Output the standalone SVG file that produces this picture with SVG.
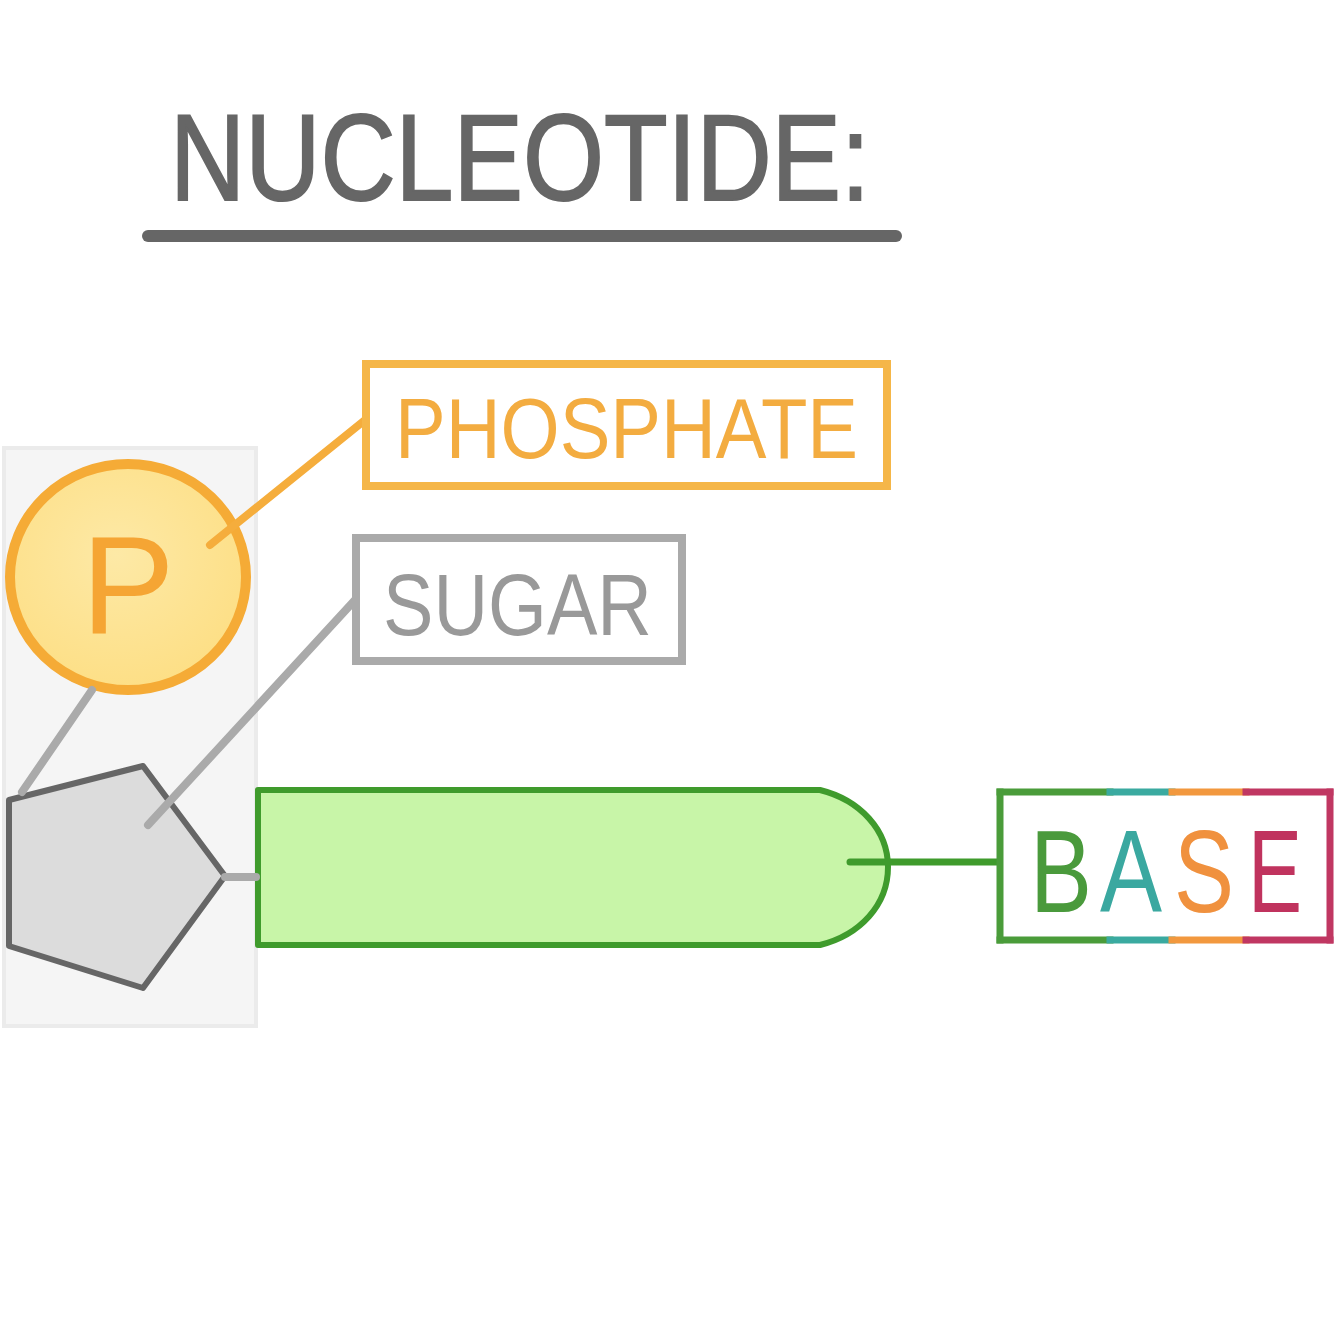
<svg xmlns="http://www.w3.org/2000/svg" width="1334" height="1334" viewBox="0 0 1334 1334">
<defs>
<radialGradient id="pg" cx="0.45" cy="0.4" r="0.6">
<stop offset="0" stop-color="#fde9a6"/>
<stop offset="1" stop-color="#fddf86"/>
</radialGradient>
<style>
.t{font-family:"Liberation Sans","DejaVu Sans",sans-serif;font-weight:normal}
.conn line{stroke-linecap:round;fill:none}
</style>
</defs>
<rect width="1334" height="1334" fill="#ffffff"/>
<g id="title">
<text class="t" x="170" y="200" font-size="122" fill="#666666" stroke="#666666" stroke-width="2" textLength="700" lengthAdjust="spacingAndGlyphs">NUCLEOTIDE:</text>
<line x1="148" y1="236" x2="896" y2="236" stroke="#666666" stroke-width="12" stroke-linecap="round"/>
</g>
<g id="backbone">
<rect x="4" y="448" width="252" height="578" fill="#f5f5f5" stroke="#ebebeb" stroke-width="4"/>
</g>
<g id="phosphate">
<ellipse cx="128" cy="577" rx="118" ry="113" fill="url(#pg)" stroke="#f5ab36" stroke-width="10"/>
<text class="t" x="128" y="633" font-size="140" fill="#f5a534" text-anchor="middle">P</text>
</g>
<g id="sugar">
<polygon points="143,766 225,876 143,988 9,946 9,800" fill="#dcdcdc" stroke="#666666" stroke-width="6" stroke-linejoin="round"/>
</g>
<g id="base-shape">
<path d="M258,790 L820,790 C860,800 888,830 888,867 C888,905 860,935 820,945 L258,945 Z" fill="#c8f5a8" stroke="#3f9b2c" stroke-width="6" stroke-linejoin="round"/>
</g>
<g id="connectors" class="conn">
<line x1="92" y1="690" x2="22" y2="792" stroke="#aaaaaa" stroke-width="8"/>
<line x1="355" y1="600" x2="148" y2="825" stroke="#aaaaaa" stroke-width="8"/>
<line x1="225" y1="877" x2="256" y2="877" stroke="#aaaaaa" stroke-width="8"/>
<line x1="210" y1="545" x2="365" y2="420" stroke="#f5ad3c" stroke-width="8"/>
<line x1="850" y1="862" x2="1000" y2="862" stroke="#3f9b2c" stroke-width="7"/>
</g>
<g id="label-phosphate">
<rect x="366" y="364" width="521" height="122" fill="#ffffff" stroke="#f5b648" stroke-width="8"/>
<text class="t" x="395" y="458" font-size="86" fill="#f3ac40" textLength="463" lengthAdjust="spacingAndGlyphs">PHOSPHATE</text>
</g>
<g id="label-sugar">
<rect x="356" y="538" width="326" height="123" fill="#ffffff" stroke="#aaaaaa" stroke-width="8"/>
<text class="t" x="383" y="635" font-size="88" fill="#999999" textLength="269" lengthAdjust="spacingAndGlyphs">SUGAR</text>
</g>
<g id="label-base">
<rect x="1000" y="792" width="330" height="148" fill="#ffffff"/>
<g stroke-width="7" stroke-linecap="square">
<line x1="1000" y1="792" x2="1110" y2="792" stroke="#4a9c3a"/>
<line x1="1110" y1="792" x2="1172" y2="792" stroke="#3aaaa0"/>
<line x1="1172" y1="792" x2="1246" y2="792" stroke="#f2983e"/>
<line x1="1246" y1="792" x2="1330" y2="792" stroke="#c03762"/>
<line x1="1000" y1="940" x2="1110" y2="940" stroke="#4a9c3a"/>
<line x1="1110" y1="940" x2="1172" y2="940" stroke="#3aaaa0"/>
<line x1="1172" y1="940" x2="1246" y2="940" stroke="#f2983e"/>
<line x1="1246" y1="940" x2="1330" y2="940" stroke="#c03762"/>
<line x1="1000" y1="792" x2="1000" y2="940" stroke="#4a9c3a"/>
<line x1="1330" y1="792" x2="1330" y2="940" stroke="#c03762"/>
</g>
<text class="t" x="1030" y="912" font-size="116" fill="#4a9a3c" textLength="62" lengthAdjust="spacingAndGlyphs">B</text>
<text class="t" x="1100" y="912" font-size="116" fill="#3aa8a0" textLength="62" lengthAdjust="spacingAndGlyphs">A</text>
<text class="t" x="1174" y="912" font-size="116" fill="#f0913e" textLength="60" lengthAdjust="spacingAndGlyphs">S</text>
<text class="t" x="1248" y="912" font-size="116" fill="#c0335e" textLength="54" lengthAdjust="spacingAndGlyphs">E</text>
</g>
</svg>
